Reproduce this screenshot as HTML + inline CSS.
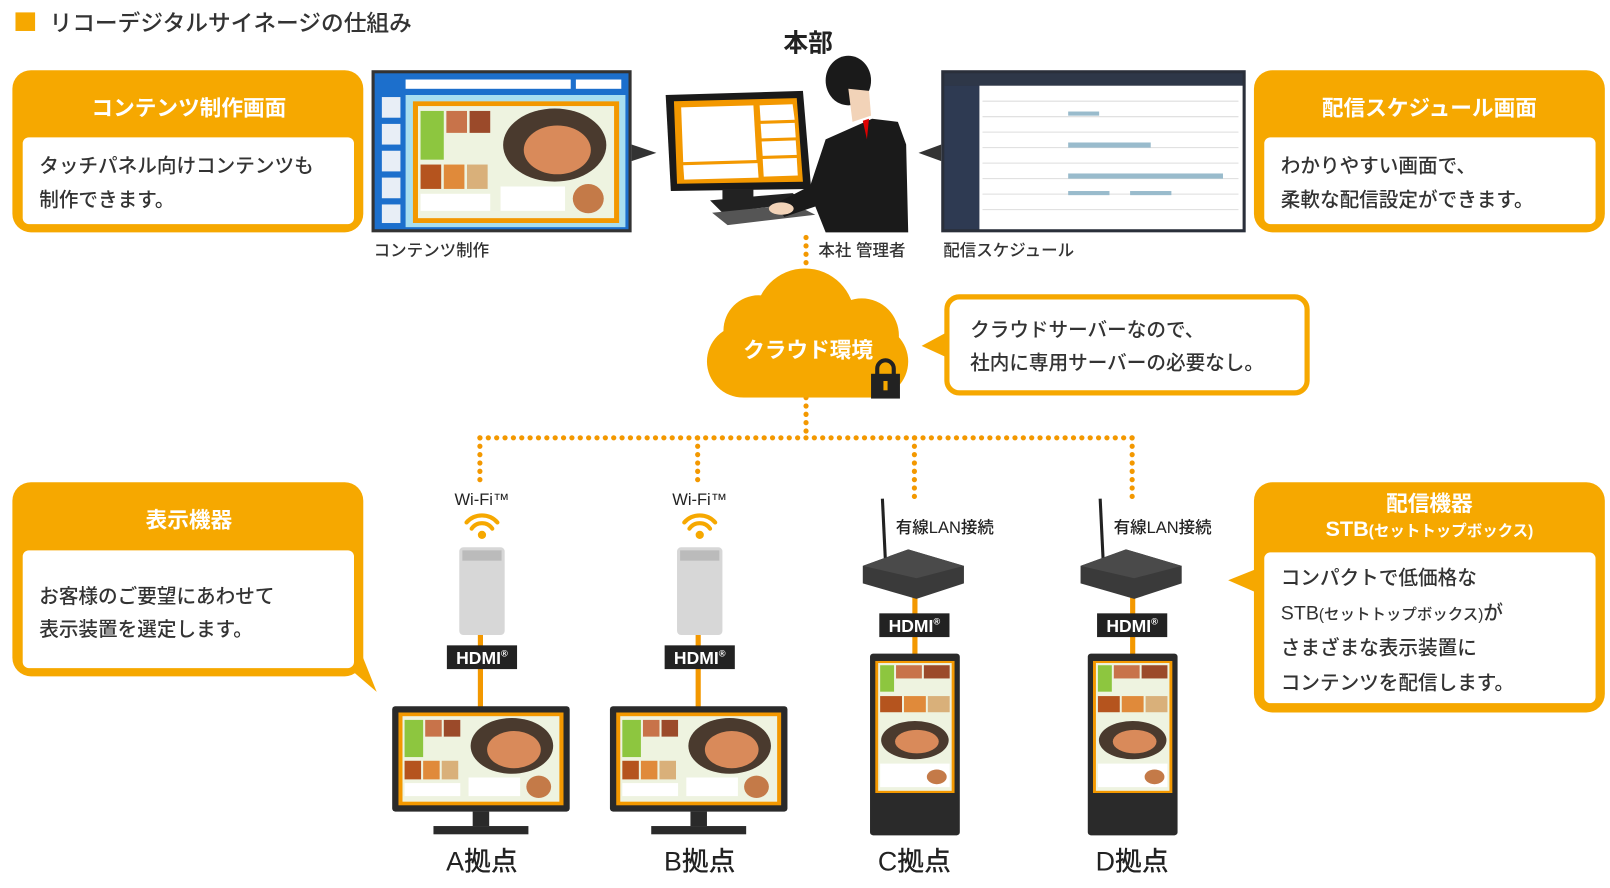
<!DOCTYPE html>
<html><head><meta charset="utf-8"><style>
html,body{margin:0;padding:0;background:#fff;width:1610px;height:888px;overflow:hidden}
svg{display:block}
text{font-family:"Liberation Sans","Noto Sans CJK JP",sans-serif;}
.b{font-weight:500}
</style></head><body>
<svg width="1610" height="888" viewBox="0 0 1560 860" preserveAspectRatio="none" xmlns="http://www.w3.org/2000/svg">
<defs>
<symbol id="sign" viewBox="0 0 160 100" preserveAspectRatio="none">
<rect width="160" height="100" fill="#f39800"/>
<rect x="4" y="4" width="152" height="92" fill="#eef3e0"/>
<rect x="6" y="8" width="18" height="40" fill="#8dc63f"/>
<rect x="26" y="8" width="16" height="18" fill="#c8734a"/>
<rect x="44" y="8" width="16" height="18" fill="#9b4a2a"/>
<rect x="6" y="52" width="16" height="20" fill="#b5541e"/>
<rect x="24" y="52" width="16" height="20" fill="#e08a3a"/>
<rect x="42" y="52" width="16" height="20" fill="#d9b07a"/>
<rect x="6" y="76" width="54" height="14" fill="#fff"/>
<ellipse cx="110" cy="36" rx="40" ry="30" fill="#4a3a2e"/>
<ellipse cx="112" cy="40" rx="26" ry="20" fill="#d98a5a"/>
<rect x="68" y="70" width="50" height="20" fill="#fff"/>
<circle cx="136" cy="80" r="12" fill="#c47a48"/>
</symbol>
<symbol id="signv" viewBox="0 0 80 180" preserveAspectRatio="none">
<rect width="80" height="180" fill="#f39800"/>
<rect x="3" y="3" width="74" height="174" fill="#eef3e0"/>
<rect x="5" y="6" width="14" height="36" fill="#8dc63f"/>
<rect x="21" y="6" width="26" height="18" fill="#c8734a"/>
<rect x="49" y="6" width="26" height="18" fill="#9b4a2a"/>
<rect x="5" y="48" width="22" height="22" fill="#b5541e"/>
<rect x="29" y="48" width="22" height="22" fill="#e08a3a"/>
<rect x="53" y="48" width="22" height="22" fill="#d9b07a"/>
<ellipse cx="40" cy="108" rx="34" ry="26" fill="#4a3a2e"/>
<ellipse cx="42" cy="110" rx="22" ry="16" fill="#d98a5a"/>
<rect x="5" y="140" width="70" height="32" fill="#fff"/>
<circle cx="62" cy="158" r="10" fill="#c47a48"/>
</symbol>
</defs>

<!-- title -->
<rect x="15" y="12" width="19" height="18" fill="#f6a800"/>
<text x="48" y="30" font-size="22" fill="#333" class="b">リコーデジタルサイネージの仕組み</text>

<!-- left box 1 -->
<rect x="12" y="68" width="340" height="157" rx="18" fill="#f6a800"/>
<rect x="22" y="133" width="321" height="84" rx="6" fill="#fff"/>
<text x="183" y="112" font-size="21" font-weight="bold" fill="#fff" text-anchor="middle">コンテンツ制作画面</text>
<text x="38" y="167" font-size="19" fill="#333" class="b">タッチパネル向けコンテンツも</text>
<text x="38" y="200" font-size="19" fill="#333" class="b">制作できます。</text>

<!-- screenshot 1 -->
<rect x="360" y="68" width="252" height="157" fill="#333"/>
<rect x="363" y="71" width="246" height="151" fill="#1c6fcc"/>
<rect x="393" y="77" width="160" height="9" fill="#fff"/>
<rect x="558" y="77" width="44" height="9" fill="#fff"/>
<g fill="#e8eef6"><rect x="370" y="94" width="18" height="20"/><rect x="370" y="120" width="18" height="20"/><rect x="370" y="146" width="18" height="20"/><rect x="370" y="172" width="18" height="20"/><rect x="370" y="198" width="18" height="18"/></g>
<rect x="393" y="92" width="213" height="128" fill="#a8def0"/>
<use href="#sign" x="400" y="98" width="200" height="118"/>
<text x="362" y="248" font-size="16" fill="#333" class="b">コンテンツ制作</text>
<polygon points="612,140 636,148 612,156" fill="#333"/>

<!-- 本部 -->
<text x="783" y="50" font-size="24" font-weight="bold" fill="#222" text-anchor="middle">本部</text>
<!-- monitor -->
<polygon points="645,92 778,88 786,183 650,185" fill="#1a1a1a"/>
<polygon points="653,98 772,95 778,176 656,178" fill="#f39800"/>
<polygon points="660,104 730,102 733,155 662,157" fill="#fff"/>
<polygon points="736,102 768,101 770,116 737,117" fill="#fff"/>
<polygon points="737,120 770,119 771,133 738,134" fill="#fff"/>
<polygon points="738,137 771,136 772,150 739,151" fill="#fff"/>
<polygon points="739,154 772,153 773,170 740,171" fill="#fff"/>
<polygon points="662,160 734,158 735,172 663,174" fill="#fff"/>
<rect x="700" y="183" width="30" height="12" fill="#222"/>
<polygon points="688,194 768,187 780,196 700,206" fill="#222"/>
<polygon points="690,206 770,198 790,208 705,218" fill="#555"/>
<!-- person -->
<polygon points="800,135 845,115 870,118 878,140 880,225 800,225 790,200 760,210 750,198 785,180" fill="#1a1a1a"/>
<ellipse cx="822" cy="78" rx="22" ry="24" fill="#1a1a1a"/>
<polygon points="822,86 842,88 844,112 826,118" fill="#f2d3b8"/>
<polygon points="836,117 842,115 840,135" fill="#d00"/>
<ellipse cx="757" cy="202" rx="12" ry="6" fill="#f2d3b8"/>
<polygon points="890,148 912,140 912,156" fill="#333"/>
<text x="793" y="248" font-size="16" fill="#333" class="b">本社 管理者</text>

<!-- screenshot 2 -->
<rect x="912" y="68" width="295" height="157" fill="#2a2f3a"/>
<rect x="915" y="71" width="289" height="12" fill="#2e3748"/>
<rect x="915" y="83" width="34" height="139" fill="#2e3a52"/>
<rect x="949" y="83" width="255" height="139" fill="#fff"/>
<g stroke="#ddd" stroke-width="1">
<line x1="952" y1="98" x2="1200" y2="98"/><line x1="952" y1="113" x2="1200" y2="113"/><line x1="952" y1="128" x2="1200" y2="128"/><line x1="952" y1="143" x2="1200" y2="143"/><line x1="952" y1="158" x2="1200" y2="158"/><line x1="952" y1="173" x2="1200" y2="173"/><line x1="952" y1="188" x2="1200" y2="188"/><line x1="952" y1="203" x2="1200" y2="203"/>
</g>
<g fill="#9bc"><rect x="1035" y="108" width="30" height="4"/><rect x="1035" y="138" width="80" height="5"/><rect x="1035" y="168" width="150" height="5"/><rect x="1035" y="185" width="40" height="4"/><rect x="1095" y="185" width="40" height="4"/></g>
<text x="914" y="248" font-size="16" fill="#333" class="b">配信スケジュール</text>

<!-- right box 1 -->
<rect x="1215" y="68" width="340" height="157" rx="18" fill="#f6a800"/>
<rect x="1225" y="133" width="321" height="84" rx="6" fill="#fff"/>
<text x="1385" y="112" font-size="21" font-weight="bold" fill="#fff" text-anchor="middle">配信スケジュール画面</text>
<text x="1241" y="167" font-size="19" fill="#333" class="b">わかりやすい画面で、</text>
<text x="1241" y="200" font-size="19" fill="#333" class="b">柔軟な配信設定ができます。</text>

<!-- dotted lines -->
<g stroke="#f39800" stroke-width="5" stroke-linecap="round" stroke-dasharray="0.1 8" fill="none">
<line x1="781" y1="230" x2="781" y2="262"/>
<line x1="781" y1="385" x2="781" y2="424"/>
<line x1="465" y1="424" x2="1097" y2="424"/>
<line x1="465" y1="424" x2="465" y2="470"/>
<line x1="676" y1="424" x2="676" y2="470"/>
<line x1="886" y1="424" x2="886" y2="483"/>
<line x1="1097" y1="424" x2="1097" y2="483"/>
</g>

<!-- cloud -->
<g fill="#f6a800">
<circle cx="780" cy="308" r="48"/>
<circle cx="735" cy="320" r="34"/>
<circle cx="835" cy="325" r="36"/>
<circle cx="720" cy="350" r="35"/>
<circle cx="845" cy="350" r="35"/>
<rect x="720" y="330" width="130" height="55"/>
</g>
<text x="783" y="346" font-size="21" font-weight="bold" fill="#fff" text-anchor="middle">クラウド環境</text>
<path d="M850,363 v-6 a8,8 0 0 1 16,0 v6" stroke="#222" stroke-width="4" fill="none"/>
<rect x="844" y="362" width="28" height="24" fill="#222"/>
<rect x="856" y="369" width="4" height="9" fill="#f6a800"/>

<!-- callout cloud -->
<polygon points="917,322 893,335 917,346" fill="#f6a800"/>
<rect x="917.5" y="287.5" width="349" height="93" rx="12" fill="#fff" stroke="#f6a800" stroke-width="5"/>
<text x="940" y="326" font-size="19" fill="#333" class="b">クラウドサーバーなので、</text>
<text x="940" y="358" font-size="19" fill="#333" class="b">社内に専用サーバーの必要なし。</text>

<!-- left box 2 -->
<polygon points="330,640 365,670 345,620" fill="#f6a800"/>
<rect x="12" y="467" width="340" height="188" rx="18" fill="#f6a800"/>
<rect x="22" y="533" width="321" height="114" rx="6" fill="#fff"/>
<text x="183" y="511" font-size="21" font-weight="bold" fill="#fff" text-anchor="middle">表示機器</text>
<text x="38" y="584" font-size="19" fill="#333" class="b">お客様のご要望にあわせて</text>
<text x="38" y="616" font-size="19" fill="#333" class="b">表示装置を選定します。</text>

<!-- right box 2 -->
<polygon points="1220,550 1190,562 1220,575" fill="#f6a800"/>
<rect x="1215" y="467" width="340" height="223" rx="18" fill="#f6a800"/>
<rect x="1225" y="535" width="321" height="146" rx="6" fill="#fff"/>
<text x="1385" y="495" font-size="21" font-weight="bold" fill="#fff" text-anchor="middle">配信機器</text>
<text x="1385" y="519" font-size="21" font-weight="bold" fill="#fff" text-anchor="middle">STB<tspan font-size="15">(セットトップボックス)</tspan></text>
<text x="1241" y="566" font-size="19" fill="#333" class="b">コンパクトで低価格な</text>
<text x="1241" y="600" font-size="19" fill="#333" class="b">STB<tspan font-size="15">(セットトップボックス)</tspan>が</text>
<text x="1241" y="634" font-size="19" fill="#333" class="b">さまざまな表示装置に</text>
<text x="1241" y="668" font-size="19" fill="#333" class="b">コンテンツを配信します。</text>

<!-- A and B -->
<g>
<text x="467" y="489" font-size="16" fill="#222" text-anchor="middle" class="b">Wi-Fi™</text>
<g fill="none" stroke="#f6a800" stroke-width="4" stroke-linecap="round">
<path d="M452,506 a20,20 0 0 1 30,0"/><path d="M457,512 a12,12 0 0 1 20,0"/></g>
<circle cx="467" cy="518" r="4" fill="#f6a800"/>
<rect x="463" y="612" width="5" height="75" fill="#f39800"/>
<rect x="445" y="530" width="44" height="85" rx="4" fill="#d7d7d7"/>
<rect x="448" y="533" width="38" height="10" fill="#bbb"/>
<rect x="433" y="625" width="68" height="23" fill="#222"/>
<text x="467" y="643" font-size="17" font-weight="bold" fill="#fff" text-anchor="middle">HDMI<tspan font-size="9" dy="-7">®</tspan></text>
<rect x="380" y="684" width="172" height="102" rx="3" fill="#2a2a2a"/>
<use href="#sign" x="386" y="690" width="160" height="90"/>
<rect x="458" y="786" width="16" height="14" fill="#2a2a2a"/>
<rect x="420" y="800" width="92" height="8" fill="#2a2a2a"/>
<text x="467" y="843" font-size="26" fill="#222" text-anchor="middle" class="b">A拠点</text>
</g>
<g transform="translate(211,0)">
<text x="467" y="489" font-size="16" fill="#222" text-anchor="middle" class="b">Wi-Fi™</text>
<g fill="none" stroke="#f6a800" stroke-width="4" stroke-linecap="round">
<path d="M452,506 a20,20 0 0 1 30,0"/><path d="M457,512 a12,12 0 0 1 20,0"/></g>
<circle cx="467" cy="518" r="4" fill="#f6a800"/>
<rect x="463" y="612" width="5" height="75" fill="#f39800"/>
<rect x="445" y="530" width="44" height="85" rx="4" fill="#d7d7d7"/>
<rect x="448" y="533" width="38" height="10" fill="#bbb"/>
<rect x="433" y="625" width="68" height="23" fill="#222"/>
<text x="467" y="643" font-size="17" font-weight="bold" fill="#fff" text-anchor="middle">HDMI<tspan font-size="9" dy="-7">®</tspan></text>
<rect x="380" y="684" width="172" height="102" rx="3" fill="#2a2a2a"/>
<use href="#sign" x="386" y="690" width="160" height="90"/>
<rect x="458" y="786" width="16" height="14" fill="#2a2a2a"/>
<rect x="420" y="800" width="92" height="8" fill="#2a2a2a"/>
<text x="467" y="843" font-size="26" fill="#222" text-anchor="middle" class="b">B拠点</text>
</g>

<!-- C and D -->
<g>
<text x="868" y="516" font-size="16" fill="#222" class="b">有線LAN接続</text>
<line x1="855" y1="483" x2="858" y2="545" stroke="#222" stroke-width="3"/>
<rect x="884" y="570" width="5" height="70" fill="#f39800"/>
<polygon points="836,548 880,532 934,548 934,565 888,580 836,565" fill="#3a3a3a"/>
<polygon points="836,548 880,532 934,548 888,560" fill="#4a4a4a"/>
<rect x="852" y="594" width="68" height="23" fill="#222"/>
<text x="886" y="612" font-size="17" font-weight="bold" fill="#fff" text-anchor="middle">HDMI<tspan font-size="9" dy="-7">®</tspan></text>
<rect x="843" y="633" width="87" height="176" rx="3" fill="#2a2a2a"/>
<use href="#signv" x="848" y="640" width="77" height="128"/>
<text x="886" y="843" font-size="26" fill="#222" text-anchor="middle" class="b">C拠点</text>
</g>
<g transform="translate(211,0)">
<text x="868" y="516" font-size="16" fill="#222" class="b">有線LAN接続</text>
<line x1="855" y1="483" x2="858" y2="545" stroke="#222" stroke-width="3"/>
<rect x="884" y="570" width="5" height="70" fill="#f39800"/>
<polygon points="836,548 880,532 934,548 934,565 888,580 836,565" fill="#3a3a3a"/>
<polygon points="836,548 880,532 934,548 888,560" fill="#4a4a4a"/>
<rect x="852" y="594" width="68" height="23" fill="#222"/>
<text x="886" y="612" font-size="17" font-weight="bold" fill="#fff" text-anchor="middle">HDMI<tspan font-size="9" dy="-7">®</tspan></text>
<rect x="843" y="633" width="87" height="176" rx="3" fill="#2a2a2a"/>
<use href="#signv" x="848" y="640" width="77" height="128"/>
<text x="886" y="843" font-size="26" fill="#222" text-anchor="middle" class="b">D拠点</text>
</g>
</svg>
</body></html>
